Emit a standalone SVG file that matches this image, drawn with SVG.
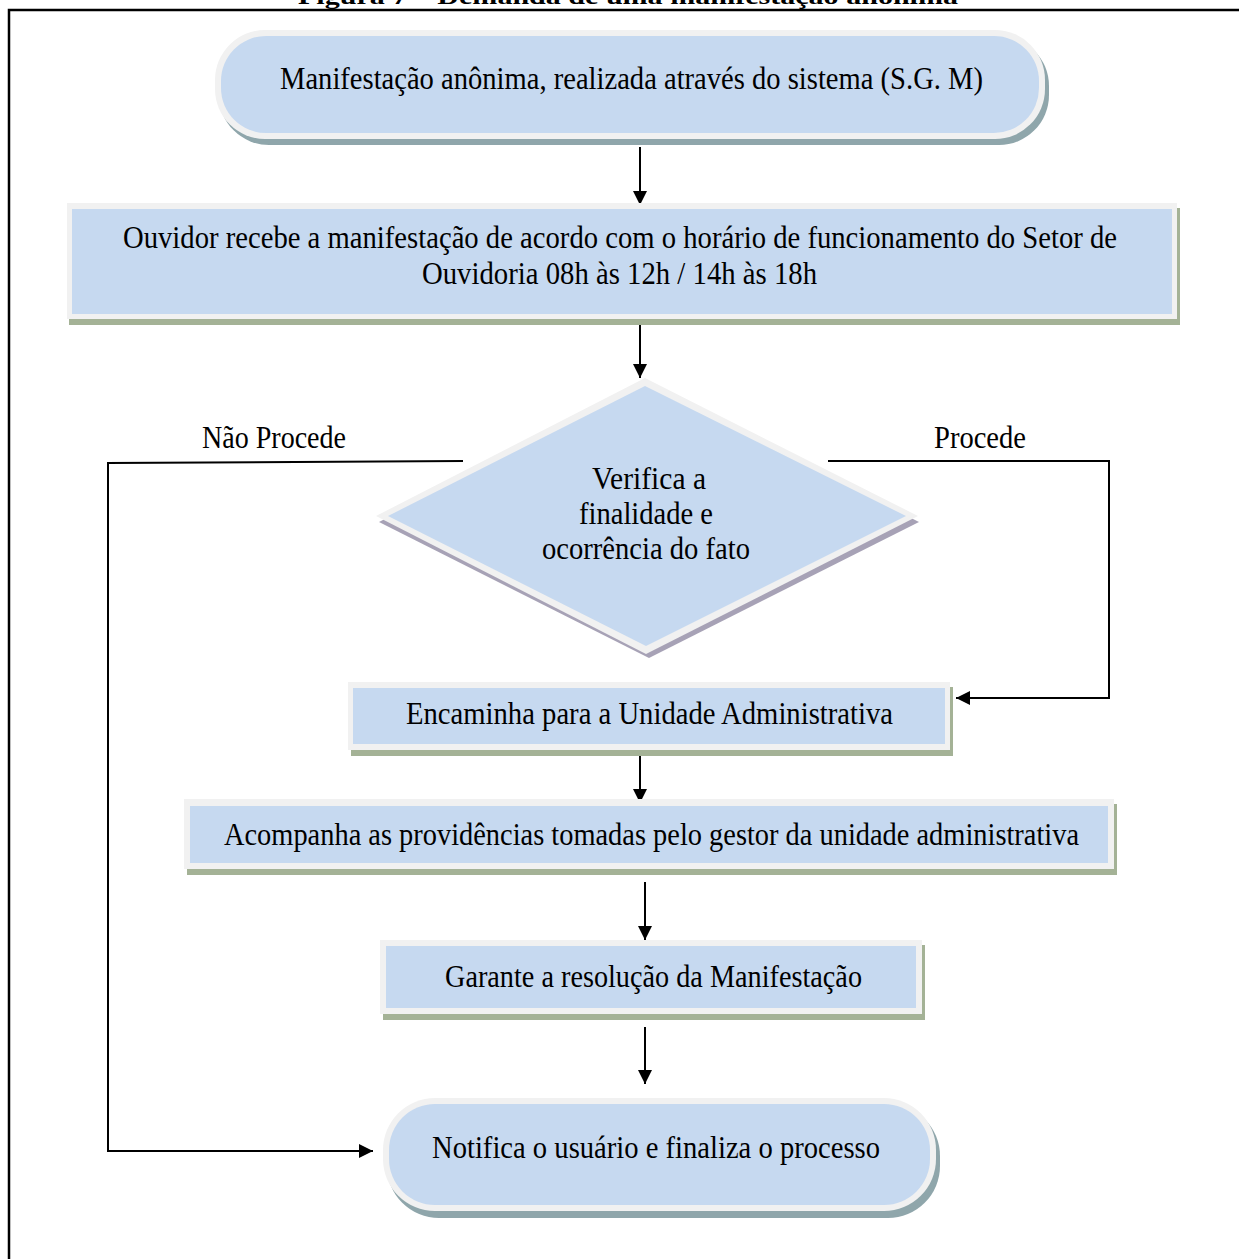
<svg xmlns="http://www.w3.org/2000/svg" width="1239" height="1259" viewBox="0 0 1239 1259">
<defs>
<style>
.t{font-family:"Liberation Serif","Times New Roman",serif;font-size:32px;fill:#000;}
.fill{fill:#c6d9f0;}
.bord{fill:#f1f1f1;}
.shr{fill:#a4b296;}
.shp{fill:#8fa6ab;}
.shd{fill:#a7a2b6;}
.ln{fill:none;stroke:#000;stroke-width:2;}
</style>
<marker id="ah" markerUnits="userSpaceOnUse" markerWidth="14" markerHeight="16" refX="14" refY="7" orient="auto">
<path d="M0,0 L14,7 L0,14 Z" fill="#000"/>
</marker>
</defs>
<rect width="1239" height="1259" fill="#fff"/>
<text x="298" y="4" font-family="Liberation Serif, serif" font-size="24" font-weight="bold" textLength="660" lengthAdjust="spacingAndGlyphs">Figura 7 – Demanda de uma manifestação anônima</text>
<path d="M9,1259 V10 H1239" fill="none" stroke="#000" stroke-width="2.5"/>

<g id="connectors">
<line class="ln" x1="640" y1="147" x2="640" y2="205" marker-end="url(#ah)"/>
<line class="ln" x1="640" y1="322" x2="640" y2="378" marker-end="url(#ah)"/>
<polyline class="ln" points="463,461 108,463 108,1151 373,1151" marker-end="url(#ah)"/>
<polyline class="ln" points="828,461 1109,461 1109,698 956,698" marker-end="url(#ah)"/>
<line class="ln" x1="640" y1="755" x2="640" y2="803" marker-end="url(#ah)"/>
<line class="ln" x1="645" y1="882" x2="645" y2="940" marker-end="url(#ah)"/>
<line class="ln" x1="645" y1="1027" x2="645" y2="1084" marker-end="url(#ah)"/>
<text class="t" x="202" y="448" textLength="144" lengthAdjust="spacingAndGlyphs">Não Procede</text>
<text class="t" x="934" y="448" textLength="92" lengthAdjust="spacingAndGlyphs">Procede</text>
</g>

<g id="start">
<rect class="shp" x="219" y="36" width="830" height="109" rx="50"/>
<rect class="bord" x="215" y="30" width="830" height="109" rx="50"/>
<rect class="fill" x="221" y="36" width="818" height="97" rx="45"/>
<text class="t" x="280" y="89" textLength="703" lengthAdjust="spacingAndGlyphs">Manifestação anônima, realizada através do sistema (S.G. M)</text>
</g>

<g id="receive">
<rect class="shr" x="69" y="208" width="1111" height="117"/>
<rect class="bord" x="67" y="203" width="1110" height="116"/>
<rect class="fill" x="72" y="209" width="1100" height="105"/>
<text class="t" x="123" y="248" textLength="994" lengthAdjust="spacingAndGlyphs">Ouvidor recebe a manifestação de acordo com o horário de funcionamento do Setor de</text>
<text class="t" x="422" y="284" textLength="395" lengthAdjust="spacingAndGlyphs">Ouvidoria 08h às 12h / 14h às 18h</text>
</g>

<g id="decision">
<polygon class="shd" points="647,384 919,522 649,658 379,522"/>
<polygon class="bord" points="645,378 918,516 646,654 376,516"/>
<polygon class="fill" points="645,386 906,516 646,646 388,516"/>
<text class="t" x="592" y="489" textLength="114" lengthAdjust="spacingAndGlyphs">Verifica a</text>
<text class="t" x="579" y="524" textLength="134" lengthAdjust="spacingAndGlyphs">finalidade e</text>
<text class="t" x="542" y="559" textLength="208" lengthAdjust="spacingAndGlyphs">ocorrência do fato</text>
</g>

<g id="forward">
<rect class="shr" x="351" y="687" width="602" height="69"/>
<rect class="bord" x="348" y="682" width="602" height="68"/>
<rect class="fill" x="353" y="688" width="592" height="56"/>
<text class="t" x="406" y="724" textLength="487" lengthAdjust="spacingAndGlyphs">Encaminha para a Unidade Administrativa</text>
</g>

<g id="follow">
<rect class="shr" x="187" y="804" width="930" height="71"/>
<rect class="bord" x="184" y="799" width="930" height="70"/>
<rect class="fill" x="190" y="806" width="918" height="57"/>
<text class="t" x="224" y="845" textLength="855" lengthAdjust="spacingAndGlyphs">Acompanha as providências tomadas pelo gestor da unidade administrativa</text>
</g>

<g id="ensure">
<rect class="shr" x="383" y="945" width="542" height="75"/>
<rect class="bord" x="380" y="940" width="542" height="74"/>
<rect class="fill" x="386" y="946" width="530" height="62"/>
<text class="t" x="445" y="987" textLength="417" lengthAdjust="spacingAndGlyphs">Garante a resolução da Manifestação</text>
</g>

<g id="end">
<rect class="shp" x="387" y="1104" width="553" height="114" rx="52"/>
<rect class="bord" x="383" y="1098" width="553" height="113" rx="52"/>
<rect class="fill" x="389" y="1104" width="541" height="101" rx="46"/>
<text class="t" x="432" y="1158" textLength="448" lengthAdjust="spacingAndGlyphs">Notifica o usuário e finaliza o processo</text>
</g>
</svg>
